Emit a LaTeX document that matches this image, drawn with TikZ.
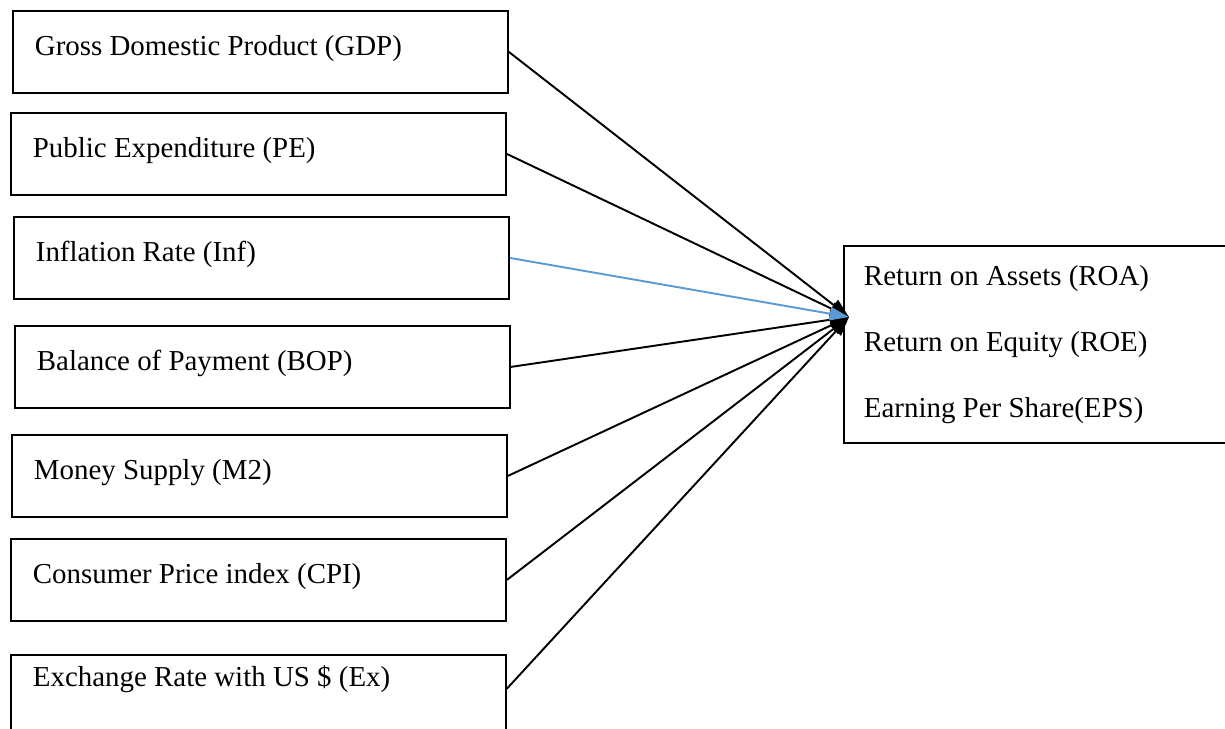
\documentclass[tikz,border=0pt]{standalone}
\usepackage{fontspec}
\setmainfont{Liberation Serif}
\usepackage{tikz}
\usetikzlibrary{arrows.meta}

\definecolor{wordblue}{RGB}{91,155,213}

\tikzset{
  varbox/.style={draw, line width=0.8pt, anchor=north west, minimum width=205.4pt, minimum height=34pt,
    inner xsep=9.1pt, inner ysep=2pt, text width=187.2pt, align=flush left, text height=9pt, text depth=6.4pt,
    font=\fontsize{12}{14}\selectfont},
  outbox/.style={draw, line width=0.8pt, anchor=north west, minimum width=170pt, minimum height=81.8pt,
    inner xsep=8.3pt, text width=153.4pt, align=flush left, font=\fontsize{12}{27.4}\selectfont},
  link/.style={line width=0.8pt, -{Triangle[length=8pt,width=5.5pt]}}
}

\begin{document}
\begin{tikzpicture}[x=0.415pt,y=0.415pt,yscale=-1,xscale=1]
        \useasboundingbox (0,0) rectangle (1225,729);

        % Shape: Rectangle
        \node [varbox] (gdp) at (12,10) {Gross Domestic Product (GDP)};
        % Shape: Rectangle
        \node [varbox] (pe) at (10,112) {Public Expenditure (PE)};
        % Shape: Rectangle
        \node [varbox] (inf) at (13,216) {Inflation Rate (Inf)};
        % Shape: Rectangle
        \node [varbox] (bop) at (14,325) {Balance of Payment (BOP)};
        % Shape: Rectangle
        \node [varbox] (m2) at (11,434) {Money Supply (M2)};
        % Shape: Rectangle
        \node [varbox] (cpi) at (10,538) {Consumer Price index (CPI)};
        % Shape: Rectangle
        \node [varbox, text depth=17.2pt] (ex) at (10,654) {Exchange Rate with US \$ (Ex)};

        % Shape: Rectangle
        \node [outbox] (perf) at (843,245) {Return on Assets (ROA)\\Return on Equity (ROE)\\Earning Per Share(EPS)};

        \coordinate (tip) at (849,317);

        %Straight Lines
        \draw [link] (gdp.east) -- (tip);
        %Straight Lines
        \draw [link] (pe.east) -- (tip);
        %Straight Lines
        \draw [link] (bop.east) -- (tip);
        %Straight Lines
        \draw [link] (m2.east) -- (tip);
        %Straight Lines
        \draw [link] (cpi.east) -- (tip);
        %Straight Lines
        \draw [link] ([yshift=-3pt]ex.east) -- (tip);
        %Straight Lines
        \draw [link, color=wordblue] (inf.east) -- (tip);

\end{tikzpicture}
\end{document}
